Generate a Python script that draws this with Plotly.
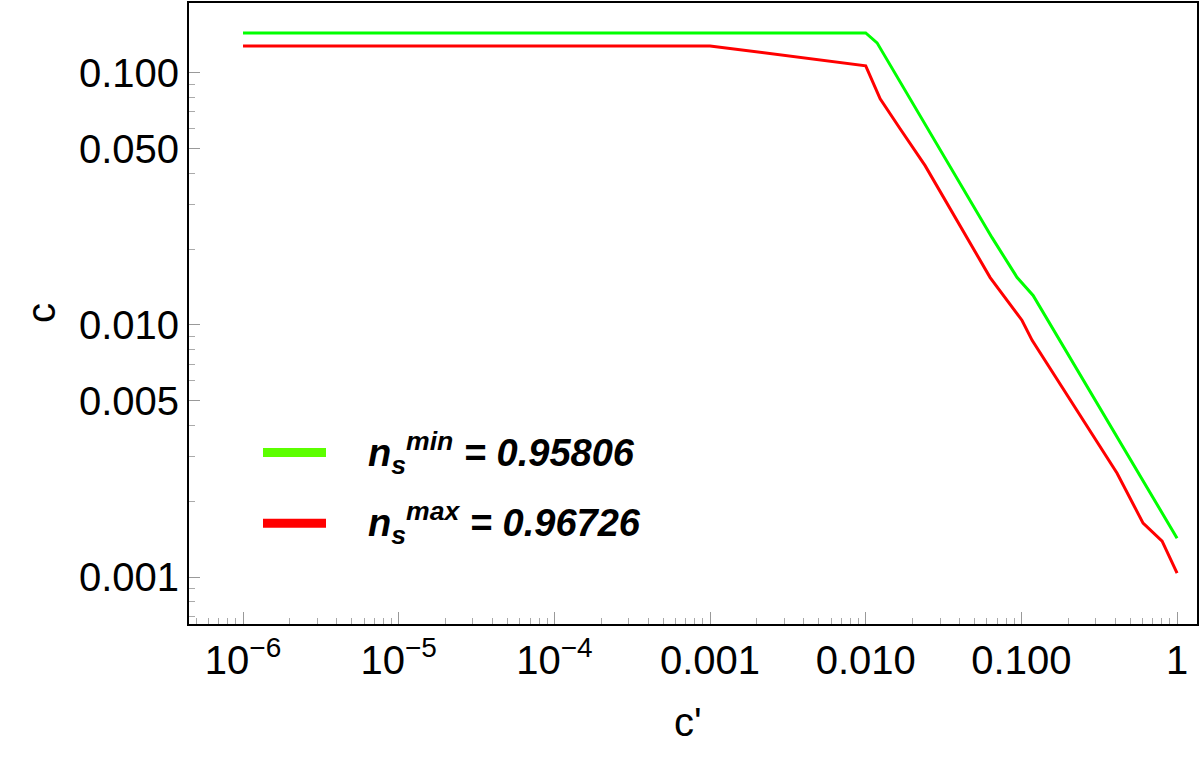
import plotly.graph_objects as go

# ---- data ----
green_x = [1e-6, 0.0100, 0.01183, 0.0648, 0.0939, 0.1189, 1.0]
green_y = [0.1440, 0.1440, 0.1315, 0.0222, 0.01542, 0.01309, 0.001427]

red_x = [1e-6, 0.001, 0.0100, 0.01238, 0.01663, 0.02407, 0.0630, 0.101, 0.1172,
         0.2454, 0.4118, 0.6047, 0.8014, 1.0]
red_y = [0.1279, 0.1279, 0.1066, 0.0789, 0.0600, 0.04285, 0.01542, 0.01042, 0.00869,
         0.004266, 0.002583, 0.001637, 0.00139, 0.001038]

x_tickvals = [1e-6, 1e-5, 1e-4, 1e-3, 1e-2, 1e-1, 1]
x_ticktext = ["10<sup>\u22126</sup>", "10<sup>\u22125</sup>", "10<sup>\u22124</sup>",
              "0.001", "0.010", "0.100", "1"]
y_tickvals = [0.001, 0.005, 0.010, 0.050, 0.100]
y_ticktext = ["0.001", "0.005", "0.010", "0.050", "0.100"]

legend_labels = ["<b><i>n<sub>s</sub><sup>min</sup> = 0.95806</i></b>",
                 "<b><i>n<sub>s</sub><sup>max</sup> = 0.96726</i></b>"]
legend_colors = ["#5cff00", "#ff0000"]

# minor tick positions (2..9 per decade)
x_minor = [m * 10.0 ** k for k in range(-7, 1) for m in range(2, 10)]
y_minor = [m * 10.0 ** k for k in range(-4, 0) for m in range(2, 10) if m != 5]

FONT = "Liberation Sans, Arial, sans-serif"

fig = go.Figure()
fig.add_trace(go.Scatter(x=green_x, y=green_y, mode="lines",
                         line=dict(color="#00ff00", width=3), showlegend=False))
fig.add_trace(go.Scatter(x=red_x, y=red_y, mode="lines",
                         line=dict(color="#ff0000", width=3), showlegend=False))

x_lo, x_hi = -6.347, 0.128
y_lo, y_hi = -3.186, -0.723

axis_common = dict(showline=True, linecolor="black", linewidth=2, mirror=True,
                   showgrid=False, zeroline=False, ticks="inside",
                   tickcolor="#999999", tickwidth=1,
                   tickfont=dict(family=FONT, size=40, color="black"))

fig.update_xaxes(type="log", range=[x_lo, x_hi], tickmode="array",
                 tickvals=x_tickvals, ticktext=x_ticktext, ticklen=12,
                 minor=dict(tickmode="array", tickvals=x_minor, ticks="inside",
                            ticklen=6, tickcolor="#aaaaaa", tickwidth=1, showgrid=False),
                 **axis_common)
fig.update_yaxes(type="log", range=[y_lo, y_hi], tickmode="array",
                 tickvals=y_tickvals, ticktext=y_ticktext, ticklen=11,
                 minor=dict(tickmode="array", tickvals=y_minor, ticks="inside",
                            ticklen=6, tickcolor="#aaaaaa", tickwidth=1, showgrid=False),
                 **axis_common)

W, H = 1200, 761
ml, mr, mt, mb = 189, 3, 1, 137
pw, ph = W - ml - mr, H - mt - mb

def px_to_paper_x(px):
    return (px - ml) / pw

def px_to_paper_y(py):
    return 1 - (py - mt) / ph

# legend (manual)
for i, (lab, col) in enumerate(zip(legend_labels, legend_colors)):
    yy = [452, 523][i]
    fig.add_shape(type="line", xref="paper", yref="paper",
                  x0=px_to_paper_x(263), x1=px_to_paper_x(326),
                  y0=px_to_paper_y(yy), y1=px_to_paper_y(yy),
                  line=dict(color=col, width=9))
    fig.add_annotation(xref="paper", yref="paper", x=px_to_paper_x(366),
                       y=px_to_paper_y(yy), xanchor="left", yanchor="middle",
                       text=lab, showarrow=False,
                       font=dict(family=FONT, size=38, color="black"))

# axis titles
fig.add_annotation(xref="paper", yref="paper", x=px_to_paper_x(688),
                   y=px_to_paper_y(722), text="c'", showarrow=False,
                   xanchor="center", yanchor="middle",
                   font=dict(family=FONT, size=40, color="black"))
fig.add_annotation(xref="paper", yref="paper", x=px_to_paper_x(41),
                   y=px_to_paper_y(312), text="c", showarrow=False, textangle=-90,
                   xanchor="center", yanchor="middle",
                   font=dict(family=FONT, size=40, color="black"))

fig.update_layout(width=W, height=H, margin=dict(l=ml, r=mr, t=mt, b=mb),
                  paper_bgcolor="white", plot_bgcolor="white", showlegend=False)

fig.write_html("out.html")
